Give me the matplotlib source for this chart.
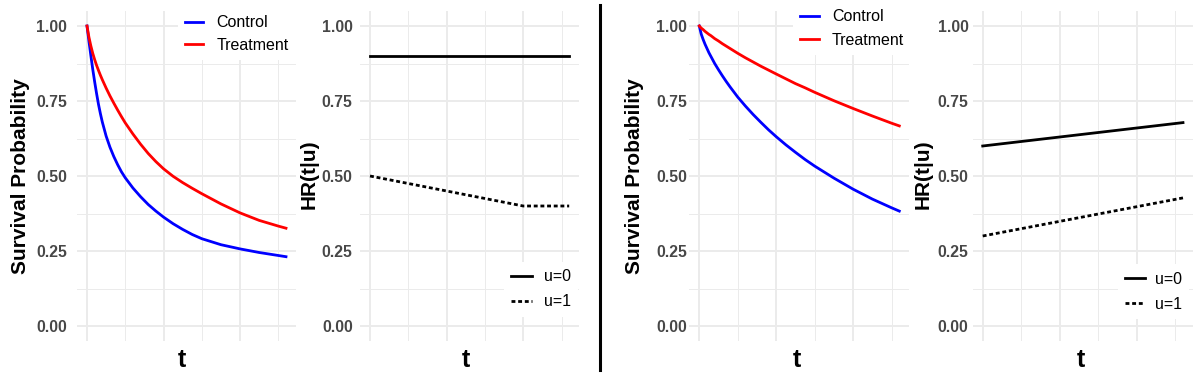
import matplotlib; matplotlib.use("Agg")
import matplotlib.pyplot as plt
from matplotlib.lines import Line2D

plt.rcParams["font.family"] = ["Liberation Sans", "DejaVu Sans"]
W, H = 1199, 377

t_surv = [0, 0.05, 0.1, 0.15, 0.2, 0.25, 0.3, 0.35, 0.4, 0.5, 0.6, 0.7, 0.8, 0.9, 1.0,
          1.2, 1.4, 1.6, 1.8, 2.0, 2.25, 2.5, 2.75, 3.0, 3.5, 4.0, 4.5, 5.0, 5.2]

# ---- left half: scenario A ----
control_a = [1.0, 0.95, 0.902, 0.856, 0.814, 0.775, 0.739, 0.708, 0.68, 0.633, 0.596, 0.565, 0.538, 0.514, 0.494,
             0.46, 0.431, 0.405, 0.383, 0.363, 0.341, 0.322, 0.305, 0.291, 0.271, 0.257, 0.245, 0.235, 0.231]
treat_a = [1.0, 0.963, 0.934, 0.909, 0.888, 0.869, 0.852, 0.836, 0.821, 0.793, 0.767, 0.743, 0.72, 0.698, 0.677,
           0.64, 0.606, 0.575, 0.548, 0.524, 0.499, 0.478, 0.459, 0.441, 0.407, 0.377, 0.352, 0.333, 0.326]
t_hr_a = [0, 1, 2, 3, 4, 5.2]
hr_u0_a = [0.9, 0.9, 0.9, 0.9, 0.9, 0.9]
hr_u1_a = [0.5, 0.475, 0.45, 0.425, 0.4, 0.4]

# ---- right half: scenario B ----
control_b = [1.0, 0.973, 0.955, 0.939, 0.925, 0.911, 0.899, 0.887, 0.875, 0.854, 0.834, 0.815, 0.797, 0.78, 0.763,
             0.733, 0.705, 0.679, 0.654, 0.631, 0.604, 0.579, 0.555, 0.533, 0.493, 0.456, 0.423, 0.394, 0.383]
treat_b = [1.0, 0.993, 0.988, 0.982, 0.977, 0.972, 0.968, 0.963, 0.958, 0.95, 0.941, 0.933, 0.925, 0.917, 0.909,
           0.894, 0.88, 0.866, 0.853, 0.84, 0.824, 0.808, 0.794, 0.779, 0.751, 0.725, 0.7, 0.676, 0.667]
t_hr_b = [0, 5.2]
hr_u0_b = [0.6, 0.678]
hr_u1_b = [0.3, 0.427]

yticks = [0, 0.25, 0.5, 0.75, 1.0]
ytick_labels = ["0.00", "0.25", "0.50", "0.75", "1.00"]
grp_labels = ["Control", "Treatment"]
u_labels = ["u=0", "u=1"]

DOT = (0, (1.4, 1.0))

fig = plt.figure(figsize=(W / 100, H / 100), dpi=100)

def px_axes(x0, x1, y0=11, y1=341):
    return fig.add_axes([x0 / W, 1 - y1 / H, (x1 - x0) / W, (y1 - y0) / H])

def style(ax, pad):
    ax.set_xlim(-0.26, 5.46); ax.set_ylim(-0.05, 1.05)
    ax.set_xticks([0, 2, 4]); ax.set_xticks([1, 3, 5], minor=True)
    ax.set_yticks(yticks); ax.set_yticks([0.125, 0.375, 0.625, 0.875], minor=True)
    ax.set_yticklabels(ytick_labels); ax.set_xticklabels([])
    ax.grid(which="major", color="#EBEBEB", lw=1.4)
    ax.grid(which="minor", color="#EBEBEB", lw=0.7)
    ax.tick_params(which="both", length=0)
    ax.tick_params(axis="y", pad=pad, labelsize=11.3, labelcolor="#474747")
    for lab in ax.get_yticklabels(): lab.set_fontweight("bold")
    for s in ax.spines.values(): s.set_visible(False)
    ax.set_axisbelow(True)

def legend(ax, handles, left, mid, spacing, hlen, tpad):
    ax.legend(handles=handles, loc="center left", bbox_to_anchor=(left / W, 1 - mid / H),
              bbox_transform=fig.transFigure, frameon=True, facecolor="white", edgecolor="none",
              framealpha=1, fancybox=False, fontsize=11.5, borderpad=0.45, borderaxespad=0,
              handlelength=hlen, handletextpad=tpad, labelspacing=spacing)

def ylab(x, y, s):
    fig.text(x / W, 1 - y / H, s, rotation=90, ha="center", va="center", fontsize=15, fontweight="bold")

def xlab(x):
    fig.text(x / W, 1 - 366.7 / H, "t", ha="center", va="baseline", fontsize=18, fontweight="bold")

# survival panels
surv = [(77.05, 295.95, 7.3, control_a, treat_a, (177.5, 34, 0.44, 1.13, 0.84)),
        (689.3, 909.3, 1.5, control_b, treat_b, (793, 28.5, 0.53, 1.15, 0.84))]
for x0, x1, pad, c, tr, lg in surv:
    ax = px_axes(x0, x1)
    style(ax, pad)
    h1, = ax.plot(t_surv, c, color="blue", lw=2.0, label=grp_labels[0])
    h2, = ax.plot(t_surv, tr, color="red", lw=2.0, label=grp_labels[1])
    legend(ax, [h1, h2], *lg)

# hazard ratio panels
hr = [(360.05, 579.15, 5.3, t_hr_a, hr_u0_a, hr_u1_a, (504, 289.3, 0.65, 1.29, 0.75)),
      (972.7, 1193.0, 3.0, t_hr_b, hr_u0_b, hr_u1_b, (1118, 291.7, 0.63, 1.21, 0.67))]
for x0, x1, pad, t, u0, u1, lg in hr:
    ax = px_axes(x0, x1)
    style(ax, pad)
    h1, = ax.plot(t, u0, color="black", lw=2.0, label=u_labels[0])
    h2, = ax.plot(t, u1, color="black", lw=2.0, ls=DOT, label=u_labels[1])
    legend(ax, [h1, h2], *lg)

ylab(21, 176.5, "Survival Probability")
ylab(309, 174, "HR(t|u)")
ylab(634.7, 176.5, "Survival Probability")
ylab(922.8, 174, "HR(t|u)")
for x in [181.7, 466, 796.7, 1081]:
    xlab(x)

fig.add_artist(Line2D([600 / W, 600 / W], [1 - 5 / H, 1 - 370 / H], transform=fig.transFigure,
                      color="black", lw=2.2))

fig.savefig("out.png", dpi=100)
